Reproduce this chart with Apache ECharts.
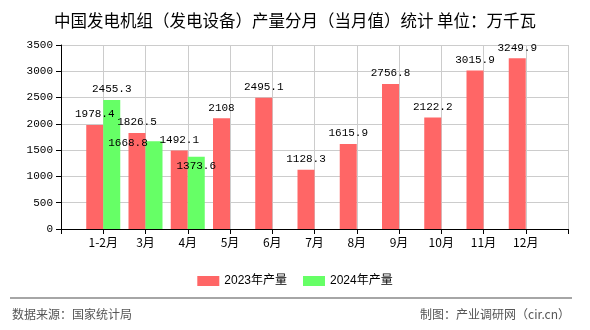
<!DOCTYPE html>
<html>
<head>
<meta charset="utf-8">
<script src="https://cdn.jsdelivr.net/npm/echarts@6/dist/echarts.min.js"></script>
<style>html,body{margin:0;padding:0;background:#fff;}#main{width:590px;height:330px;}</style>
</head>
<body>
<div id="main"></div>
<script>
const titleText = '中国发电机组（发电设备）产量分月（当月值）统计 单位：万千瓦';
const categories = ['1-2月','3月','4月','5月','6月','7月','8月','9月','10月','11月','12月'];
const yTicks = [0,500,1000,1500,2000,2500,3000,3500];
const seriesNames = ['2023年产量','2024年产量'];
const values2023 = [1978.4,1826.5,1492.1,2108,2495.1,1128.3,1615.9,2756.8,2122.2,3015.9,3249.9];
const values2024 = [2455.3,1668.8,1373.6,null,null,null,null,null,null,null,null];
const sourceText = '数据来源：国家统计局';
const creditText = '制图：产业调研网（cir.cn）';

// label nudges (style only) keyed by series index and category index
const labelNudge = {1: {1: [-26, 12], 2: [0, 20]}};

const chart = echarts.init(document.getElementById('main'), null, {renderer:'canvas'});
const xData = [''].concat(categories, ['']);
function buildData(vals, si){
  const arr = [null].concat(vals, [null]);
  return arr.map((v, k) => {
    const i = k - 1;
    if (v === null) return '-';
    const n = labelNudge[si] && labelNudge[si][i];
    return n ? {value: v, label: {offset: n}} : v;
  });
}
const mono = "'Liberation Mono','DejaVu Sans Mono',monospace";
const cjk = "'Noto Sans CJK SC',sans-serif";
const colors = ['#ff6666','#66ff66'];
const valSets = [values2023, values2024];

chart.setOption({
  animation: false,
  title: {
    text: titleText, left: 'center', top: 7,
    textStyle: {fontSize: 16.5, fontWeight: 'normal', color: '#000', fontFamily: cjk}
  },
  legend: {
    top: 270, left: 'center', itemWidth: 22, itemHeight: 10, itemGap: 16,
    icon: 'rect',
    textStyle: {fontSize: 12, color: '#000', fontFamily: "'Liberation Sans','Noto Sans CJK SC',sans-serif"},
    data: seriesNames
  },
  grid: {left: 61, right: 22, top: 45, bottom: 101},
  xAxis: {
    type: 'category', data: xData, boundaryGap: false,
    axisLine: {lineStyle: {color: '#000', width: 1}},
    axisTick: {show: true, interval: 0, length: 5, lineStyle: {color: '#000'}},
    axisLabel: {interval: 0, color: '#000', fontSize: 12, margin: 7, fontFamily: cjk},
    splitLine: {show: true, interval: 0, lineStyle: {color: '#cccccc', width: 1}}
  },
  yAxis: {
    type: 'value', min: yTicks[0], max: yTicks[yTicks.length-1], interval: yTicks[1]-yTicks[0],
    axisLine: {show: true, lineStyle: {color: '#000', width: 1}},
    axisTick: {show: true, length: 5, lineStyle: {color: '#000'}},
    axisLabel: {color: '#000', fontSize: 11, margin: 8, fontFamily: mono, formatter: v => String(v)},
    splitLine: {show: true, lineStyle: {color: '#cccccc', width: 1}}
  },
  series: seriesNames.map((name, si) => ({
    name: name, type: 'bar', barWidth: 17, barGap: '0%',
    itemStyle: {color: colors[si]},
    label: {show: true, position: 'top', distance: 5, color: '#000', fontSize: 11, fontFamily: mono},
    data: buildData(valSets[si], si)
  })),
  graphic: [
    {type: 'line', shape: {x1: 10, y1: 298, x2: 572, y2: 298}, style: {stroke: '#888', lineWidth: 1.5}},
    {type: 'text', left: 12, top: 308, style: {text: sourceText, fill: '#555', font: "12px 'Noto Sans CJK SC',sans-serif"}},
    {type: 'text', right: 20, top: 308, style: {text: creditText, fill: '#555', font: "12px 'Noto Sans CJK SC',sans-serif"}}
  ]
});
</script>
</body>
</html>
